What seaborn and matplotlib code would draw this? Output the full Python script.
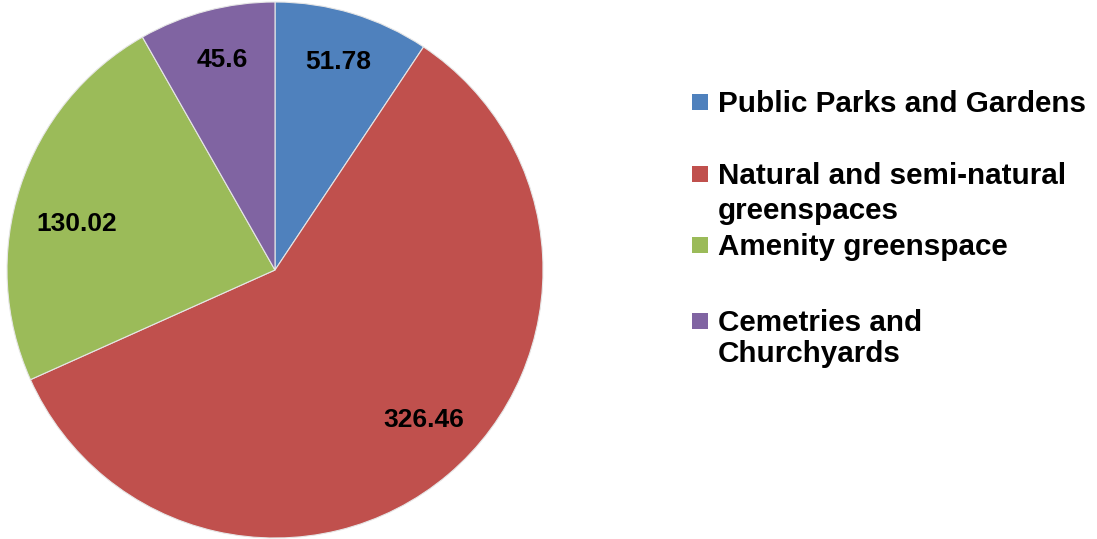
import matplotlib
matplotlib.use("Agg")
import matplotlib.pyplot as plt
import matplotlib.patches as mpatches
import seaborn as sns

categories = ["Public Parks and Gardens", "Natural and semi-natural greenspaces",
              "Amenity greenspace", "Cemetries and Churchyards"]
legend_lines = [["Public Parks and Gardens"],
                ["Natural and semi-natural", "greenspaces"],
                ["Amenity greenspace"],
                ["Cemetries and", "Churchyards"]]
values = [51.78, 326.46, 130.02, 45.6]
value_labels = ["51.78", "326.46", "130.02", "45.6"]
colors = ["#4F81BD", "#C0504D", "#9BBB59", "#8064A2"]

sns.set_theme(style="white")
plt.rcParams['font.family'] = ['Liberation Sans', 'DejaVu Sans']

W, H = 1097, 539
fig = plt.figure(figsize=(W / 100, H / 100), dpi=100)

# pie geometry in pixels
cx, cy, r = 275, 270, 268
ax = fig.add_axes([(cx - r) / W, (H - cy - r) / H, 2 * r / W, 2 * r / H])

palette = sns.color_palette(colors)
it = iter(value_labels)
wedges, texts, autotexts = ax.pie(values, colors=palette, startangle=90, counterclock=False,
                                  autopct=lambda p: next(it), pctdistance=0.81,
                                  wedgeprops=dict(edgecolor="#e6e6e6", linewidth=0.8))
# small nudges to match label placement of the original
nudges = [(0, 0), (0.03, 0.06), (0.03, -0.08), (0.01, 0)]
for t, (dx, dy) in zip(autotexts, nudges):
    x, y = t.get_position()
    t.set_position((x + dx, y + dy))
    t.set_fontsize(19)
    t.set_fontweight("bold")
    t.set_color("black")
ax.set_xlim(-1, 1)
ax.set_ylim(-1, 1)
ax.set_aspect("equal")
ax.axis("off")

# legend drawn to match the original layout
baselines = [[112], [184, 219], [255], [331, 362]]
text_x = 718
for lines, ys, col in zip(legend_lines, baselines, palette):
    for line, y in zip(lines, ys):
        fig.text(text_x / W, (H - y) / H, line, fontsize=21.3, fontweight="bold",
                 color="black", ha="left", va="baseline")
    sq = 16
    yc = ys[0] - 10
    fig.add_artist(mpatches.Rectangle((692 / W, (H - yc - sq / 2) / H), sq / W, sq / H,
                                      transform=fig.transFigure, facecolor=col, edgecolor="none"))

fig.savefig("out.png", dpi=100)
plt.close(fig)
